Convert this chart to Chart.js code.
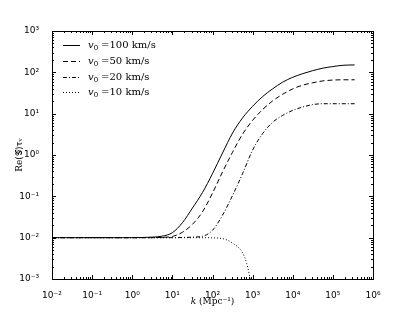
<!DOCTYPE html>
<html>
<head>
<meta charset="utf-8">
<script src="https://cdn.jsdelivr.net/npm/chart.js@4"></script>
<style>
  html, body { margin: 0; padding: 0; background: #fff; }
  #wrap { width: 415px; height: 312px; }
</style>
</head>
<body>
<div id="wrap"><canvas id="growthChart"></canvas></div>
<script>
// k grid in Mpc^-1 (quarter decades)
const kValues = [0.01, 0.0178, 0.0316, 0.0562, 0.1, 0.178, 0.316, 0.562, 1, 1.78, 3.16, 5.62,
  10, 17.8, 31.6, 56.2, 100, 178, 316, 562, 1000, 1780, 3160, 5620,
  10000, 17800, 31600, 56200, 100000, 178000, 350000];

const gV100 = [0.01, 0.01, 0.01, 0.01, 0.01, 0.01, 0.01, 0.01, 0.01, 0.0101, 0.0103, 0.0109,
  0.0132, 0.023, 0.052, 0.123, 0.355, 1.12, 3.4, 7.9, 15.1, 26, 40, 58,
  76, 93, 110, 126, 138, 148, 151];

const gV50 = [0.01, 0.01, 0.01, 0.01, 0.01, 0.01, 0.01, 0.01, 0.01, 0.01, 0.01, 0.0102,
  0.0107, 0.0135, 0.021, 0.042, 0.12, 0.39, 1.17, 3.2, 6.9, 12.6, 20.4, 29.5,
  39.8, 49, 56, 62, 65, 66, 66];

const gV20 = [0.01, 0.01, 0.01, 0.01, 0.01, 0.01, 0.01, 0.01, 0.01, 0.01, 0.01, 0.01,
  0.01, 0.0101, 0.0103, 0.0108, 0.0151, 0.035, 0.105, 0.355, 1.32, 3.3, 6.2, 9.1,
  12.0, 14.5, 16.6, 17.4, 17.4, 17.4, 17.4];

// the 10 km/s curve drops out of the plot near k ~ 900
const kDotted = [0.01, 0.1, 1, 10, 31.6, 100, 178, 316, 562, 710, 850, 880];
const gV10 = [0.01, 0.01, 0.01, 0.01, 0.01, 0.0099, 0.0095, 0.0074, 0.0043, 0.0024, 0.0011, 0.0009];

const velocityLabels = ['100', '50', '20', '10'];
const lineDashes = [[], [5, 3], [4, 2, 1, 2], [1, 2]];

const xTickValues = [1e-2, 1e-1, 1e0, 1e1, 1e2, 1e3, 1e4, 1e5, 1e6];
const xTickLabels = ['10⁻²', '10⁻¹', '10⁰', '10¹', '10²', '10³', '10⁴', '10⁵', '10⁶'];
const yTickValues = [1e-3, 1e-2, 1e-1, 1e0, 1e1, 1e2, 1e3];
const yTickLabels = ['10⁻³', '10⁻²', '10⁻¹', '10⁰', '10¹', '10²', '10³'];

function toPoints(xs, ys) {
  return xs.map(function(x, i) { return { x: x, y: ys[i] }; });
}

function decadeLabel(values, labels) {
  return function(value) {
    for (let i = 0; i < values.length; i++) {
      if (Math.abs(Math.log10(value) - Math.log10(values[i])) < 1e-6) return labels[i];
    }
    return '';
  };
}

// matplotlib-like frame with inward ticks on all four sides
const frameTicks = {
  id: 'frameTicks',
  afterDatasetsDraw(chart) {
    const ctx = chart.ctx;
    const a = chart.chartArea;
    const xs = chart.scales.x;
    const ys = chart.scales.y;
    ctx.save();
    ctx.strokeStyle = '#000';
    ctx.lineWidth = 1;
    ctx.beginPath();
    for (let e = -2; e <= 6; e++) {
      for (let m = 1; m <= 9; m++) {
        const v = m * Math.pow(10, e);
        if (v > 1e6 * 1.0001) break;
        const px = Math.round(xs.getPixelForValue(v)) + 0.5;
        const len = m === 1 ? 4 : 2;
        ctx.moveTo(px, a.bottom); ctx.lineTo(px, a.bottom - len);
        ctx.moveTo(px, a.top); ctx.lineTo(px, a.top + len);
      }
    }
    for (let e = -3; e <= 3; e++) {
      for (let m = 1; m <= 9; m++) {
        const v = m * Math.pow(10, e);
        if (v > 1e3 * 1.0001) break;
        const py = Math.round(ys.getPixelForValue(v)) + 0.5;
        const len = m === 1 ? 4 : 2;
        ctx.moveTo(a.left, py); ctx.lineTo(a.left + len, py);
        ctx.moveTo(a.right, py); ctx.lineTo(a.right - len, py);
      }
    }
    ctx.stroke();
    ctx.strokeRect(Math.round(a.left) + 0.5, Math.round(a.top) + 0.5,
      Math.round(a.width), Math.round(a.height));
    ctx.restore();
  }
};

// legend in the upper-left corner of the axes
const cornerLegend = {
  id: 'cornerLegend',
  afterDraw(chart) {
    const ctx = chart.ctx;
    const a = chart.chartArea;
    ctx.save();
    chart.data.datasets.forEach(function(ds, i) {
      const y = Math.round(a.top + 14 + i * 15.8);
      ctx.strokeStyle = '#000';
      ctx.lineWidth = 1;
      ctx.setLineDash(ds.borderDash || []);
      ctx.beginPath();
      ctx.moveTo(a.left + 11, y + 0.5);
      ctx.lineTo(a.left + 28, y + 0.5);
      ctx.stroke();
      ctx.setLineDash([]);
      ctx.fillStyle = '#000';
      ctx.textBaseline = 'middle';
      let x = a.left + 36;
      ctx.font = 'italic 10px "DejaVu Serif"';
      ctx.fillText('v', x, y);
      x += ctx.measureText('v').width;
      ctx.font = '7px "DejaVu Serif"';
      ctx.fillText('0', x, y + 3);
      x += ctx.measureText('0').width + 3;
      ctx.font = '10px "DejaVu Serif"';
      ctx.fillText('=' + velocityLabels[i] + ' km/s', x, y);
    });
    ctx.restore();
  }
};

// x-axis label with an italic k
const axisLabelK = {
  id: 'axisLabelK',
  afterDraw(chart) {
    const ctx = chart.ctx;
    const a = chart.chartArea;
    ctx.save();
    ctx.fillStyle = '#000';
    ctx.textBaseline = 'middle';
    const rest = ' (Mpc⁻¹)';
    ctx.font = '9px "DejaVu Serif"';
    const wRest = ctx.measureText(rest).width;
    ctx.font = 'italic 9px "DejaVu Serif"';
    const wK = ctx.measureText('k').width;
    let x = (a.left + a.right) / 2 - (wK + wRest) / 2;
    ctx.fillText('k', x, 302);
    ctx.font = '9px "DejaVu Serif"';
    ctx.fillText(rest, x + wK, 302);
    ctx.restore();
  }
};

function buildDataset(label, points, dash) {
  return {
    label: label,
    data: points,
    borderColor: '#000',
    borderWidth: 1,
    borderDash: dash,
    pointRadius: 0,
    fill: false,
    cubicInterpolationMode: 'monotone'
  };
}

function initChart() {
  const canvas = document.getElementById('growthChart');
  const datasets = [
    buildDataset('v0 =' + velocityLabels[0] + ' km/s', toPoints(kValues, gV100), lineDashes[0]),
    buildDataset('v0 =' + velocityLabels[1] + ' km/s', toPoints(kValues, gV50), lineDashes[1]),
    buildDataset('v0 =' + velocityLabels[2] + ' km/s', toPoints(kValues, gV20), lineDashes[2]),
    buildDataset('v0 =' + velocityLabels[3] + ' km/s', toPoints(kDotted, gV10), lineDashes[3])
  ];

  new Chart(canvas.getContext('2d'), {
    type: 'line',
    data: { datasets: datasets },
    options: {
      responsive: true,
      maintainAspectRatio: false,
      animation: false,
      layout: { padding: { left: 14, top: 31, right: 42, bottom: 0 } },
      plugins: {
        legend: { display: false },
        tooltip: { enabled: false }
      },
      scales: {
        x: {
          type: 'logarithmic',
          min: 1e-2,
          max: 1e6,
          grid: { display: false },
          border: { display: false },
          afterFit: function(scale) { scale.height = 33; },
          ticks: {
            autoSkip: false,
            maxRotation: 0,
            padding: 3,
            color: '#000',
            font: { family: 'DejaVu Sans', size: 9 },
            callback: decadeLabel(xTickValues, xTickLabels)
          },
          title: { display: false }
        },
        y: {
          type: 'logarithmic',
          min: 1e-3,
          max: 1e3,
          grid: { display: false },
          border: { display: false },
          afterFit: function(scale) { scale.width = 38; },
          ticks: {
            autoSkip: false,
            padding: 5,
            color: '#000',
            font: { family: 'DejaVu Sans', size: 9 },
            callback: decadeLabel(yTickValues, yTickLabels)
          },
          title: {
            display: true,
            text: 'Re(𝒢)τᵥ',
            color: '#000',
            font: { family: 'DejaVu Serif', size: 9 },
            padding: { top: 0, bottom: 0 }
          }
        }
      }
    },
    plugins: [frameTicks, cornerLegend, axisLabelK]
  });
}

document.addEventListener('DOMContentLoaded', initChart);
</script>
</body>
</html>
